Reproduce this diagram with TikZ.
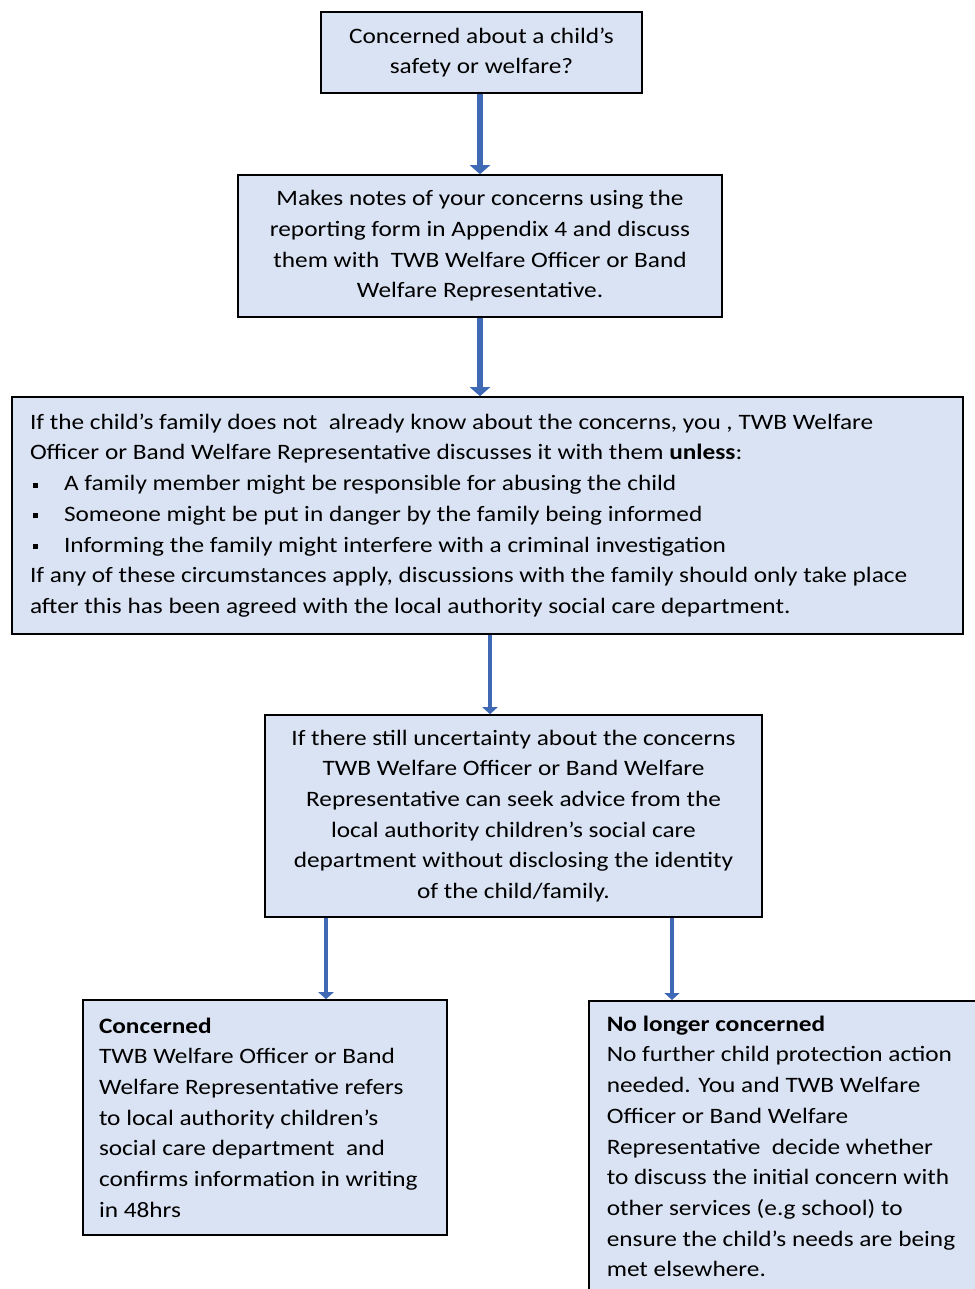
\documentclass[tikz,border=0pt]{standalone}
\usepackage{fontspec}
\setmainfont{Carlito}[FakeStretch=1.15]
\usepackage{tikz}
\usetikzlibrary{arrows.meta, calc, positioning}
\definecolor{boxblue}{HTML}{DAE3F3}
\definecolor{arrowblue}{HTML}{3F69B5}
\tikzset{
    flowbox/.style = {draw=black, line width=1.6pt, rectangle, fill=boxblue, inner sep=0pt,
      font=\fontsize{22}{30.7}\selectfont},
    thickflow/.style = {arrowblue, line width=6pt, -{Triangle[width=20pt,length=9pt]}},
    thinflow/.style = {arrowblue, line width=4pt, -{Triangle[width=15pt,length=7pt]}}
}
\newcommand{\sqitem}{\hspace*{3pt}\makebox[31pt][l]{\raisebox{3pt}{\rule{5pt}{5pt}}}}

\begin{document}
\begin{tikzpicture}[x=1pt, y=-1pt]
\useasboundingbox (0,0) rectangle (974,1289);

\node[flowbox, name=concern, minimum width=321pt, minimum height=81pt, align=center] at (481.5,52.5)
	{Concerned about a child's\\ safety or welfare?};
\node[flowbox, name=notes, minimum width=484pt, minimum height=142pt, align=center] at (480,246)
	{Makes notes of your concerns using the\\ reporting form in Appendix 4 and discuss\\
	them with\ \ TWB Welfare Officer or Band\\ Welfare Representative.};
\node[flowbox, name=family, minimum width=951pt, minimum height=237pt, text width=915pt, align=flush left] at (487.5,515.5)
	{If the child's family does not\ \ already know about the concerns, you , TWB Welfare\\
	Officer or Band Welfare Representative discusses it with them \textbf{unless}:\\
	\sqitem A family member might be responsible for abusing the child\\
	\sqitem Someone might be put in danger by the family being informed\\
	\sqitem Informing the family might interfere with a criminal investigation\\
	If any of these circumstances apply, discussions with the family should only take place\\
	after this has been agreed with the local authority social care department.};
\node[flowbox, name=advice, minimum width=497pt, minimum height=202pt, align=center] at (513.5,816)
	{If there still uncertainty about the concerns\\ TWB Welfare Officer or Band Welfare\\
	Representative can seek advice from the\\ local authority children's social care\\
	department without disclosing the identity\\ of the child/family.};
\node[flowbox, name=yes, minimum width=364pt, minimum height=235pt, text width=332pt, align=flush left] at (265,1117.5)
	{\textbf{Concerned}\\ TWB Welfare Officer or Band\\ Welfare Representative refers\\
	to local authority children's\\ social care department\ \ and\\ confirms information in writing\\ in 48hrs};
\node[flowbox, name=no, anchor=north west, text width=360pt, inner xsep=18pt, inner ysep=15pt, align=flush left] at (588,1000)
	{\textbf{No longer concerned}\\ No further child protection action\\ needed. You and TWB Welfare\\
	Officer or Band Welfare\\ Representative\ \ decide whether\\ to discuss the initial concern with\\
	other services (e.g school) to\\ ensure the child's needs are being\\ met elsewhere.};

\draw[thickflow] (concern.south -| notes.north) -- (notes.north);
\draw[thickflow] (notes.south) -- (family.north -| notes.south);
\draw[thinflow] ([xshift=2.5pt]family.south) -- ([xshift=-23.5pt]advice.north);
\draw[thinflow] ([xshift=-187.5pt]advice.south) -- ([xshift=-187.5pt]advice.south |- yes.north);
\draw[thinflow] ([xshift=158.5pt]advice.south) -- ([xshift=158.5pt]advice.south |- no.north);
\end{tikzpicture}
\end{document}
